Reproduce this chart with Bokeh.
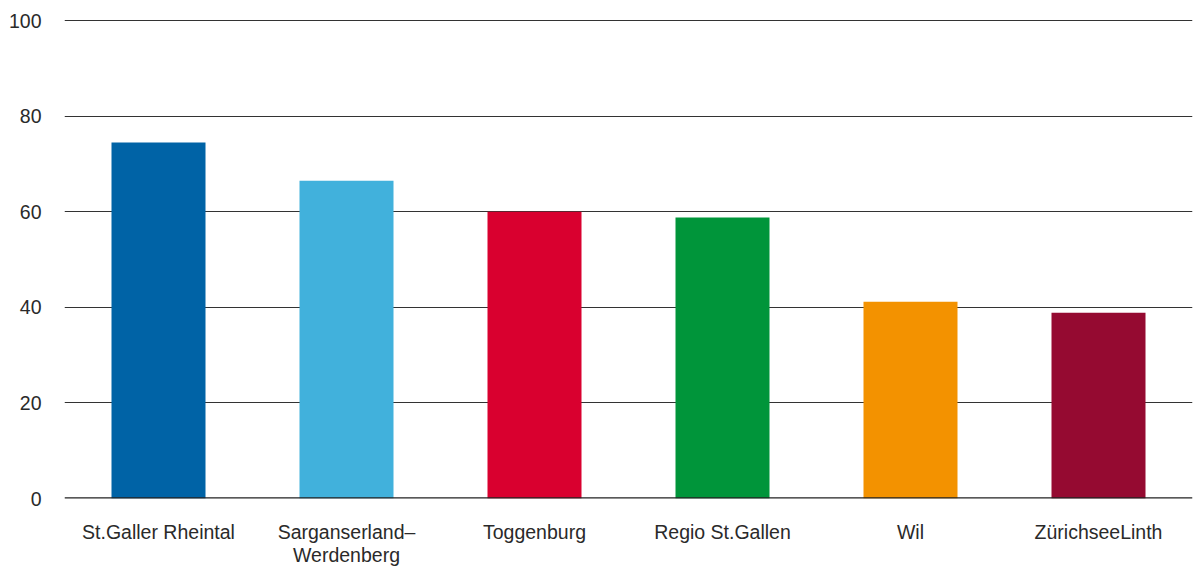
from bokeh.plotting import figure
from bokeh.models import FactorRange, Range1d, Span, ColumnDataSource, FixedTicker
from bokeh.embed import file_html
from bokeh.resources import INLINE

regions = ["St.Galler Rheintal", "Sarganserland–\nWerdenberg", "Toggenburg",
           "Regio St.Gallen", "Wil", "ZürichseeLinth"]
values = [74.5, 66.5, 60.0, 58.8, 41.2, 38.9]
colors = ["#0063a6", "#41b1dc", "#d9002f", "#00953a", "#f39200", "#950a31"]
y_ticks = [0, 20, 40, 60, 80, 100]

src = ColumnDataSource(dict(region=regions, value=values, color=colors))

p = figure(width=1194, height=568, output_backend="svg", toolbar_location=None,
           x_range=FactorRange(*regions, range_padding=0), y_range=Range1d(0, 100.25),
           min_border_left=64, min_border_right=2, min_border_top=19, min_border_bottom=10)
p.outline_line_color = None
p.background_fill_color = "white"
p.border_fill_color = "white"

p.vbar(x="region", top="value", width=0.5, color="color", source=src, line_color=None)

p.xgrid.grid_line_color = None
p.ygrid.grid_line_color = "#333333"
p.ygrid.grid_line_width = 1
p.yaxis.ticker = FixedTicker(ticks=y_ticks)

for ax in (p.xaxis[0], p.yaxis[0]):
    ax.axis_line_color = None
    ax.major_tick_line_color = None
    ax.minor_tick_line_color = None
    ax.major_label_text_font = "Liberation Sans"
    ax.major_label_text_font_size = "19.5px"
    ax.major_label_text_color = "#2a2a2a"

p.yaxis.major_label_standoff = 17
p.xaxis.major_label_standoff = 16
p.xaxis.major_label_text_line_height = 1.05

p.add_layout(Span(location=0, dimension="width", line_color="#222222", line_width=2.5))

open("out.html", "w").write(file_html(p, INLINE))
